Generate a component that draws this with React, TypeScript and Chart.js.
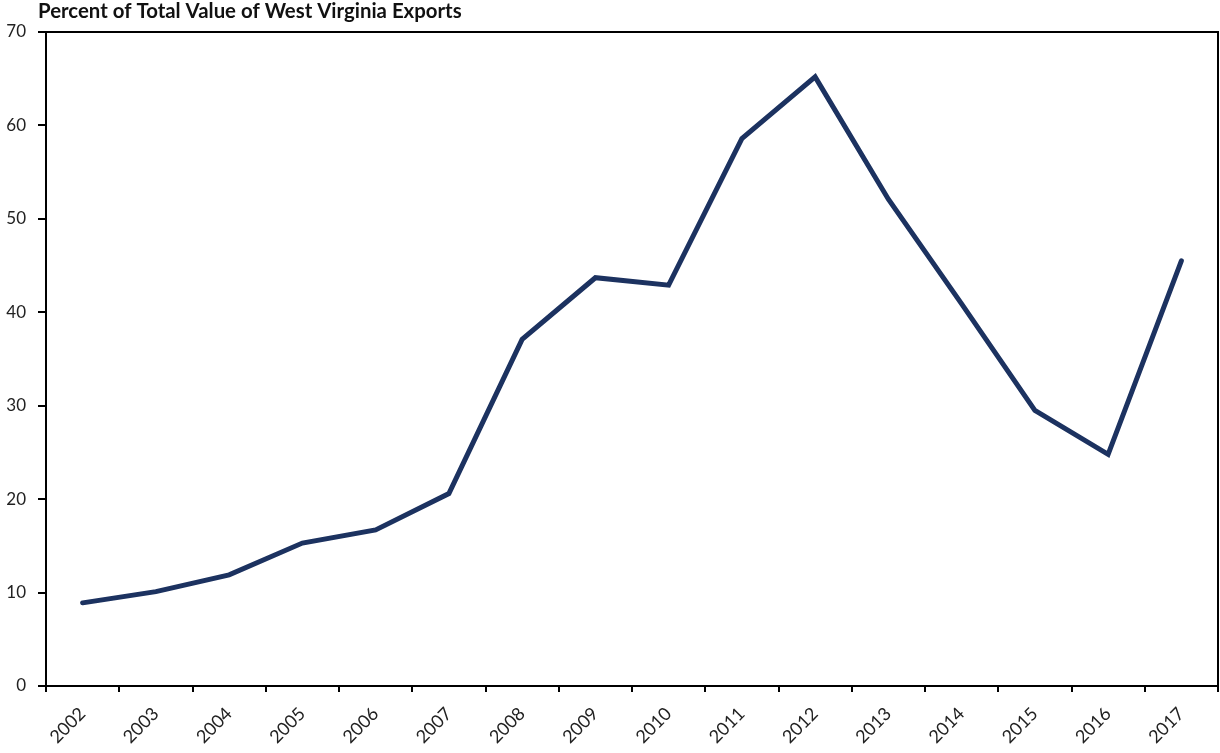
import React, { useEffect, useRef } from "react";
import { Chart, registerables } from "chart.js";

Chart.register(...registerables);

const title = "Percent of Total Value of West Virginia Exports";
const years = ["2002","2003","2004","2005","2006","2007","2008","2009","2010","2011","2012","2013","2014","2015","2016","2017"];
const percentValues = [8.9, 10.1, 11.9, 15.3, 16.7, 20.6, 37.1, 43.7, 42.9, 58.6, 65.2, 52.1, 40.9, 29.5, 24.8, 45.5];
const yTickMin = 0;
const yTickMax = 70;
const yTickStep = 10;

const FONT = "Lato, 'Open Sans', sans-serif";

const framePlugin = {
  id: "frame",
  afterDraw(chart: any) {
    const { ctx, chartArea } = chart;
    ctx.save();
    ctx.strokeStyle = "#000";
    ctx.lineWidth = 2;
    ctx.strokeRect(chartArea.left, chartArea.top, chartArea.right - chartArea.left, chartArea.bottom - chartArea.top);
    // title
    ctx.fillStyle = "#111";
    ctx.textBaseline = "alphabetic";
    ctx.textAlign = "left";
    let size = 17;
    ctx.font = `bold ${size}px ${FONT}`;
    const w = ctx.measureText(title).width;
    size = size * 424 / w;
    ctx.font = `bold ${size}px ${FONT}`;
    ctx.fillText(title, 38, 18);
    ctx.restore();
  },
};

export default function App() {
  const ref = useRef<HTMLCanvasElement | null>(null);
  useEffect(() => {
    document.body.style.margin = "0";
    const chart = new Chart(ref.current as HTMLCanvasElement, {
      type: "line",
      data: {
        labels: years,
        datasets: [
          {
            data: percentValues,
            borderColor: "#1c3260",
            borderWidth: 5,
            pointRadius: 0,
            tension: 0,
            borderCapStyle: "round",
            borderJoinStyle: "miter",
            fill: false,
          },
        ],
      },
      options: {
        responsive: false,
        animation: false,
        layout: { padding: { top: 32, right: 2, left: 0, bottom: 0 } },
        plugins: { legend: { display: false }, tooltip: { enabled: false }, title: { display: false } },
        scales: {
          x: {
            type: "category",
            offset: true,
            grid: { offset: true, drawOnChartArea: false, drawTicks: true, tickLength: 6, color: "#000", lineWidth: 2 },
            border: { display: true, color: "#000", width: 2 },
            ticks: {
              autoSkip: false,
              maxRotation: 45,
              minRotation: 45,
              padding: 11,
              color: "#222",
              font: { family: FONT, size: 18 },
            },
            afterFit(scale: any) { scale.height = 67; },
          },
          y: {
            min: yTickMin,
            max: yTickMax,
            grid: { drawOnChartArea: false, drawTicks: true, tickLength: 8, color: "#000", lineWidth: 2 },
            border: { display: true, color: "#000", width: 2 },
            ticks: {
              stepSize: yTickStep,
              padding: 12,
              color: "#222",
              font: { family: FONT, size: 17 },
            },
            afterFit(scale: any) { scale.width = 46; },
          },
        },
      },
      plugins: [framePlugin],
    });
    return () => chart.destroy();
  }, []);
  return (
    <div style={{ position: "fixed", left: 0, top: 0, width: 1220, height: 753, background: "#fff" }}>
      <canvas ref={ref} width={1220} height={753} />
    </div>
  );
}
